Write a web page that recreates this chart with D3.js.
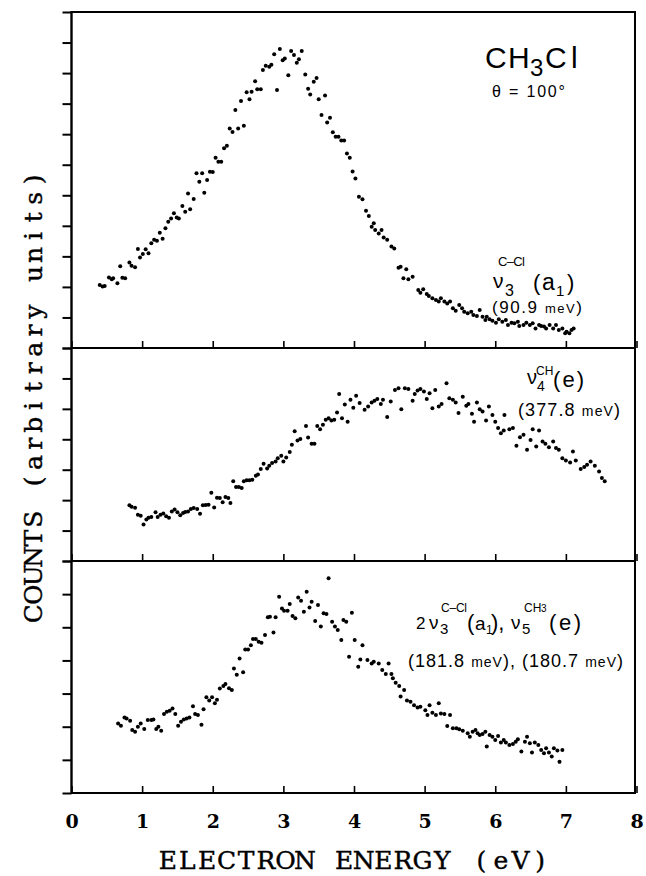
<!DOCTYPE html>
<html>
<head>
<meta charset="utf-8">
<script src="https://cdn.jsdelivr.net/npm/d3@7"></script>
<style>
  html, body { margin: 0; padding: 0; background: #fff; }
  svg { display: block; }
</style>
</head>
<body>
<svg id="chart" width="646" height="876"></svg>
<script>
// ---------------- DATA ----------------
const xTickValues = [0, 1, 2, 3, 4, 5, 6, 7, 8];
const xTickLabels = ["0", "1", "2", "3", "4", "5", "6", "7", "8"];
const xTitle = "ELECTRON ENERGY (eV)";
const yTitle = "COUNTS (arbitrary units)";

// Panel 1: v3 C-Cl (a1), 90.9 meV
const topEnergy = [0.40,0.44,0.47,0.53,0.57,0.59,0.65,0.69,0.72,0.76,0.82,0.85,0.90,0.94,0.97,1.01,1.05,1.09,1.13,1.17,1.21,1.25,1.29,1.33,1.37,1.41,1.45,1.49,1.52,1.57,1.61,1.65,1.68,1.73,1.77,1.81,1.85,1.88,1.92,1.96,2.00,2.04,2.08,2.12,2.16,2.20,2.24,2.28,2.32,2.36,2.40,2.44,2.48,2.52,2.55,2.60,2.63,2.68,2.71,2.75,2.80,2.83,2.87,2.91,2.95,2.99,3.02,3.07,3.11,3.15,3.19,3.22,3.26,3.31,3.35,3.38,3.43,3.47,3.50,3.54,3.59,3.62,3.66,3.70,3.74,3.78,3.82,3.86,3.90,3.94,3.98,4.02,4.07,4.12,4.17,4.21,4.25,4.28,4.30,4.35,4.39,4.42,4.47,4.53,4.57,4.63,4.66,4.70,4.74,4.77,4.83,4.91,4.94,4.98,5.03,5.06,5.11,5.16,5.20,5.23,5.28,5.32,5.36,5.40,5.44,5.49,5.53,5.56,5.61,5.66,5.69,5.74,5.78,5.82,5.86,5.88,5.92,5.96,6.01,6.05,6.10,6.15,6.18,6.23,6.27,6.32,6.34,6.40,6.44,6.49,6.53,6.57,6.62,6.65,6.69,6.72,6.77,6.82,6.86,6.90,6.95,6.99,7.01,7.05,7.08,7.11];
const topCounts = [2.06,2.01,2.03,2.31,2.25,2.28,2.12,2.68,2.30,2.28,2.80,2.69,2.64,3.24,2.96,3.08,3.23,3.10,3.43,3.54,3.51,3.77,3.58,3.92,4.13,4.24,4.41,4.27,4.24,4.65,4.46,5.06,4.54,4.88,5.72,5.44,5.72,5.08,5.50,5.77,5.76,6.23,6.10,6.10,6.54,6.62,7.19,7.07,7.79,7.19,8.09,7.28,8.37,8.14,8.39,8.73,8.47,8.47,9.10,9.24,9.21,9.27,9.62,8.45,9.79,9.42,9.48,8.93,9.72,9.59,9.34,9.45,9.72,8.95,8.49,8.30,8.72,8.84,8.14,7.63,8.27,7.38,7.54,7.06,6.92,6.92,6.79,6.79,6.37,6.23,5.78,5.55,4.95,4.87,4.49,4.32,3.97,4.08,3.86,3.75,3.86,3.62,3.54,3.32,3.26,2.63,2.66,2.28,2.58,2.25,2.33,1.90,1.81,1.92,1.77,1.70,1.63,1.57,1.52,1.63,1.52,1.46,1.52,1.30,1.22,1.41,1.30,1.19,1.14,1.19,1.08,1.05,1.24,1.02,0.92,1.02,0.94,0.89,0.83,0.94,0.86,0.92,0.75,0.83,0.81,0.86,0.72,0.75,0.83,0.75,0.81,0.64,0.75,0.72,0.70,0.64,0.75,0.64,0.75,0.59,0.64,0.48,0.53,0.48,0.59,0.64];

// Panel 2: v4 CH (e), 377.8 meV
const midEnergy = [0.82,0.85,0.90,0.94,0.98,1.02,1.06,1.09,1.13,1.19,1.22,1.26,1.30,1.34,1.38,1.42,1.46,1.50,1.54,1.58,1.61,1.65,1.69,1.73,1.78,1.82,1.86,1.90,1.94,1.98,2.02,2.06,2.10,2.14,2.18,2.22,2.25,2.29,2.33,2.37,2.41,2.44,2.48,2.52,2.56,2.61,2.64,2.68,2.72,2.77,2.80,2.84,2.89,2.92,2.97,3.00,3.04,3.09,3.12,3.16,3.20,3.24,3.32,3.35,3.40,3.44,3.48,3.52,3.56,3.60,3.64,3.68,3.72,3.76,3.79,3.83,3.87,3.91,3.95,3.99,4.03,4.08,4.15,4.20,4.25,4.29,4.33,4.38,4.41,4.47,4.52,4.58,4.63,4.67,4.72,4.77,4.83,4.86,4.90,4.94,4.99,5.03,5.07,5.11,5.15,5.20,5.24,5.31,5.35,5.40,5.44,5.48,5.54,5.59,5.62,5.67,5.70,5.74,5.78,5.82,5.87,5.91,5.96,6.00,6.04,6.08,6.12,6.13,6.20,6.25,6.30,6.35,6.40,6.45,6.50,6.53,6.58,6.62,6.67,6.71,6.76,6.82,6.86,6.90,6.95,7.00,7.06,7.10,7.14,7.21,7.26,7.30,7.35,7.41,7.47,7.51,7.55];
const midCounts = [1.83,1.78,1.75,1.52,1.49,1.20,1.36,1.42,1.45,1.60,1.45,1.52,1.56,1.47,1.42,1.63,1.69,1.60,1.50,1.58,1.61,1.63,1.71,1.74,1.71,1.55,1.83,1.84,1.85,2.24,1.76,2.08,2.07,1.93,2.10,2.07,1.91,2.62,2.43,2.43,2.40,2.62,2.65,2.65,2.67,2.80,2.84,3.02,3.20,3.04,3.13,3.22,3.27,3.38,3.46,3.27,3.40,3.58,3.82,4.26,3.96,4.01,4.44,4.06,3.85,3.85,4.44,4.33,4.48,4.64,4.69,4.62,4.64,4.88,5.49,4.69,5.14,4.58,5.30,5.04,5.43,5.19,4.97,5.08,5.21,5.27,5.32,5.16,5.30,4.73,5.24,5.62,5.68,4.99,5.68,5.65,5.27,5.49,5.60,5.65,5.57,5.32,5.51,5.02,5.62,5.08,5.16,5.84,5.35,5.30,5.21,4.86,5.40,5.10,5.16,4.84,4.58,5.21,4.99,4.91,4.62,5.08,4.80,4.58,4.37,4.20,4.29,4.80,4.33,4.37,3.79,4.07,4.15,3.66,3.98,4.33,3.76,4.29,3.93,3.85,3.74,3.93,3.71,3.66,3.38,3.30,3.24,3.60,3.30,3.02,3.09,3.16,3.27,3.13,2.94,2.73,2.62];

// Panel 3: 2v3 C-Cl (a1), v5 CH3 (e)
const botEnergy = [0.66,0.70,0.75,0.78,0.83,0.86,0.90,0.94,0.98,1.03,1.08,1.13,1.16,1.20,1.23,1.27,1.31,1.35,1.39,1.43,1.47,1.51,1.55,1.59,1.63,1.67,1.72,1.75,1.79,1.84,1.87,1.91,1.95,1.99,2.03,2.06,2.10,2.15,2.18,2.23,2.27,2.30,2.34,2.38,2.43,2.46,2.50,2.54,2.57,2.61,2.65,2.69,2.74,2.78,2.81,2.86,2.89,2.94,2.98,3.01,3.06,3.09,3.13,3.17,3.21,3.25,3.29,3.33,3.37,3.40,3.45,3.49,3.53,3.57,3.61,3.64,3.69,3.73,3.77,3.82,3.85,3.89,3.93,3.97,4.01,4.06,4.09,4.12,4.19,4.25,4.28,4.35,4.40,4.45,4.49,4.53,4.55,4.59,4.64,4.66,4.71,4.75,4.80,4.85,4.90,4.94,5.01,5.04,5.07,5.11,5.16,5.20,5.23,5.28,5.32,5.36,5.40,5.45,5.49,5.54,5.61,5.64,5.68,5.72,5.75,5.78,5.82,5.86,5.88,5.92,5.96,6.00,6.04,6.08,6.12,6.15,6.20,6.25,6.29,6.32,6.37,6.42,6.45,6.49,6.52,6.56,6.61,6.65,6.69,6.72,6.76,6.80,6.83,6.88,6.91,6.95];
const botCounts = [2.10,2.03,2.28,2.25,2.18,1.90,1.85,2.00,2.10,1.93,2.20,2.20,2.22,1.93,2.00,1.88,2.38,2.45,2.48,2.55,2.38,2.03,2.15,2.22,2.25,2.28,2.62,2.38,2.35,2.06,2.53,2.89,2.79,2.89,2.71,2.81,3.15,3.23,3.29,3.16,3.11,3.76,3.57,4.06,3.64,4.33,4.33,4.46,4.65,4.65,4.56,4.53,4.77,5.30,5.32,4.84,5.30,5.92,5.57,5.50,5.50,5.70,5.34,5.27,5.90,5.80,5.47,6.07,5.60,5.77,5.19,5.67,5.02,5.42,5.40,6.48,5.17,5.02,4.92,4.62,5.22,5.17,4.11,5.44,4.62,3.81,4.03,4.46,4.01,3.91,3.96,3.91,3.71,3.59,3.91,3.59,3.46,3.33,3.23,2.91,3.11,2.79,2.75,2.65,2.58,2.60,2.50,2.35,2.65,2.42,2.35,2.71,2.40,2.38,2.02,2.35,1.95,1.95,1.92,1.88,1.80,1.70,1.85,1.90,1.80,1.75,1.78,1.85,1.40,1.75,1.70,1.60,1.72,1.52,1.60,1.52,1.45,1.48,1.55,1.62,1.25,1.55,1.70,1.50,1.22,1.52,1.45,1.30,1.20,1.35,1.22,1.10,1.35,1.28,0.94,1.30];

const yTicksTop = [0,1,2,3,4,5,6,7,8,9,10,11];
const yTicksMid = [0,1,2,3,4,5,6,7];
const yTicksBot = [0,1,2,3,4,5,6,7];

// ---------------- LAYOUT ----------------
const svg = d3.select("#chart");
const left = 71.5, right = 636.5;
const x = d3.scaleLinear().domain([0, 8]).range([left, right]);

const panels = [
  { e: topEnergy, c: topCounts, ticks: yTicksTop, dom: [0, 11], r: [348, 12] },
  { e: midEnergy, c: midCounts, ticks: yTicksMid, dom: [0, 7],  r: [561, 348] },
  { e: botEnergy, c: botCounts, ticks: yTicksBot, dom: [0, 7],  r: [793, 561] }
];

const sansFont = "'Liberation Sans', Arial, Helvetica, sans-serif";
const serifFont = "'DejaVu Serif', 'Liberation Serif', serif";

panels.forEach((p, i) => {
  const y = d3.scaleLinear().domain(p.dom).range(p.r);
  const gy = svg.append("g").attr("transform", `translate(${left},0)`)
    .call(d3.axisLeft(y).tickValues(p.ticks).tickSize(9).tickFormat(""));
  gy.select(".domain").remove();
  gy.selectAll(".tick line").attr("stroke", "#000").attr("stroke-width", 2);

  const gx = svg.append("g").attr("transform", `translate(0,${p.r[0]})`)
    .call(d3.axisBottom(x).tickValues(xTickValues).tickSizeInner(-7).tickSizeOuter(0)
      .tickFormat(i === 2 ? (d, k) => xTickLabels[k] : ""));
  gx.select(".domain").remove();
  gx.selectAll(".tick line").attr("stroke", "#000").attr("stroke-width", 1.6);
  if (i === 2) {
    gx.selectAll(".tick text")
      .attr("y", 35).attr("dy", 0)
      .attr("font-family", serifFont).attr("font-size", 19).attr("font-weight", "bold")
      .attr("fill", "#000");
  }

  svg.append("g").selectAll("circle")
    .data(p.e.map((e, k) => [e, p.c[k]]))
    .join("circle")
    .attr("cx", d => x(d[0]))
    .attr("cy", d => y(d[1]))
    .attr("r", 2)
    .attr("fill", "#000");
});

// frame
const frame = svg.append("g").attr("stroke", "#000").attr("fill", "none");
frame.append("line").attr("x1", left).attr("x2", left).attr("y1", 11).attr("y2", 794).attr("stroke-width", 2.4);
frame.append("line").attr("x1", right - 1.5).attr("x2", right - 1.5).attr("y1", 11).attr("y2", 794).attr("stroke-width", 2);
frame.append("line").attr("x1", left).attr("x2", right - 1.5).attr("y1", 12).attr("y2", 12).attr("stroke-width", 2);
panels.forEach(p => {
  frame.append("line").attr("x1", left).attr("x2", right - 1.5)
    .attr("y1", p.r[0]).attr("y2", p.r[0]).attr("stroke-width", 2);
});

// axis titles: typewriter-like layout, one fixed cell per character
function monoText(str, startX, pitch) {
  return str.split("").map((c, k) => startX + pitch * (k + 0.5)).join(" ");
}
svg.append("text")
  .attr("x", monoText(xTitle, 158, 19.6)).attr("y", 869)
  .attr("text-anchor", "middle")
  .attr("font-family", serifFont).attr("font-size", 25)
  .attr("stroke", "#000").attr("stroke-width", 0.4)
  .attr("fill", "#000")
  .text(xTitle);

svg.append("text")
  .attr("transform", "translate(42,397) rotate(-90)")
  .attr("x", monoText(yTitle, -226, 18.875)).attr("y", 0)
  .attr("text-anchor", "middle")
  .attr("font-family", serifFont).attr("font-size", 25)
  .attr("stroke", "#000").attr("stroke-width", 0.4)
  .attr("fill", "#000")
  .text(yTitle);

// annotation helpers
function piece(t, px, py, size, len) {
  const el = svg.append("text").attr("x", px).attr("y", py)
    .attr("font-family", sansFont).attr("font-size", size).attr("fill", "#000").text(t);
  if (len) el.attr("textLength", len).attr("lengthAdjust", "spacing");
  return el;
}
function measured(parts, px, py, len) {
  const el = svg.append("text").attr("x", px).attr("y", py)
    .attr("font-family", sansFont).attr("fill", "#000");
  parts.forEach(([t, s, dy]) => el.append("tspan").attr("font-size", s).attr("dy", dy || 0).text(t));
  if (len) el.attr("textLength", len).attr("lengthAdjust", "spacing");
  return el;
}

// CH3Cl title
piece("C", 485, 68, 30);
piece("H", 508, 68, 30);
piece("3", 530, 76, 24);
piece("C", 545, 68, 30);
piece("l", 571, 68, 30);
piece("θ = 100°", 492, 97, 16, 73);

// panel 1 label
piece("ν", 493, 288, 21);
piece("3", 505, 296, 16);
piece("C–Cl", 498, 266, 13, 27);
piece("(", 533, 290, 22);
piece("a", 542, 290, 23);
piece("1", 556, 296, 15);
piece(")", 567, 290, 22);
measured([["(90.9 ", 17], ["meV", 13], [")", 17]], 492, 313, 90);

// panel 2 label
piece("ν", 527, 384, 20);
piece("4", 537, 391, 14);
piece("CH", 536, 374.5, 12);
piece("(e)", 553, 387, 22, 31);
measured([["(377.8 ", 18], ["meV", 14], [")", 18]], 518, 416, 102);

// panel 3 label
piece("2", 416, 629, 17);
piece("ν", 429, 629, 19);
piece("3", 440, 634, 15);
piece("C–Cl", 441, 612, 12, 26);
piece("(", 467, 630, 22);
piece("a", 475, 630, 19);
piece("1", 486, 634, 12);
piece("),", 491, 630, 22);
piece("ν", 511, 629, 19);
piece("5", 522, 634, 15);
piece("CH", 524, 612, 12);
piece("3", 541, 612, 10);
piece("(e)", 549, 630, 22, 32);
measured([["(181.8 ", 18], ["meV", 14], ["), (180.7 ", 18], ["meV", 14], [")", 18]], 408, 667, 215);
</script>
</body>
</html>
